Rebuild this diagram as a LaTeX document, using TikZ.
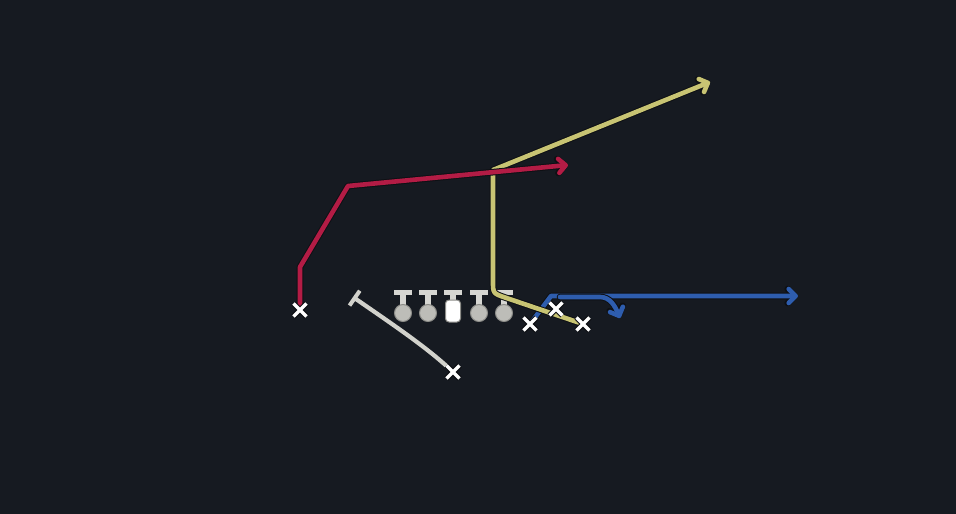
\documentclass[tikz,border=0pt]{standalone}
\usetikzlibrary{arrows.meta,shapes.misc}
\definecolor{bgc}{HTML}{161A21}
\definecolor{redr}{HTML}{B31C45}
\definecolor{yelr}{HTML}{C8C473}
\definecolor{bluer}{HTML}{2E5DAE}
\definecolor{greyr}{HTML}{D2D2CC}
\definecolor{edge}{HTML}{0E1014}
\definecolor{olfill}{HTML}{BDBDB8}
\definecolor{olbar}{HTML}{D6D6D2}
\definecolor{oledge}{HTML}{8C8C88}
\begin{document}
\begin{tikzpicture}[x=1pt,y=-1pt,
  route/.style={line width=4.6pt,line join=round,line cap=round,
    preaction={draw=edge,line width=6.6pt,line join=round,line cap=round}},
  tipr/.style={-{Straight Barb[length=7pt,width=14pt,round]}},
  redroute/.style={route,draw=redr,tipr},
  yelroute/.style={route,draw=yelr,tipr},
  blueroute/.style={route,draw=bluer,tipr},
  greyroute/.style={draw=greyr,line width=4.2pt,line cap=round,-{Bar[width=18pt,line width=4pt]}},
  xmark/.style={cross out,draw=white,line width=3.4pt,minimum size=9.5pt,inner sep=0pt,
    preaction={draw=edge,line width=5.4pt}},
  olman/.style={circle,fill=olfill,draw=oledge,line width=1pt,minimum size=17pt,inner sep=0pt},
  centre/.style={rounded corners=3.5pt,fill=white,draw=oledge,line width=1pt,minimum width=15pt,minimum height=22pt,inner sep=0pt},
  tbar/.style={draw=olbar,line width=5pt},
  tstem/.style={draw=olbar,line width=6pt}]
\fill[bgc] (0,0) rectangle (956,514);
\useasboundingbox (0,0) rectangle (956,514);

% offensive line
\foreach \n/\x in {lt/403,lg/428,rg/479,rt/504}{
  \draw[tstem] (\x,293) -- (\x,308);
  \draw[tbar] (\x-9,292) -- (\x+9,292);
  \node[olman] (\n) at (\x,313) {};
}
\draw[tstem] (453,293) -- (453,304);
\draw[tbar] (444,292) -- (462,292);
\node[centre] (c) at (453,311) {};

% players
\node[xmark] (x1) at (300,310) {};
\node[xmark] (x2) at (453,372) {};
\node[xmark] (x3) at (530,324) {};
\node[xmark] (x4) at (556,309) {};
\node[xmark] (x5) at (583,324) {};

\coordinate (redA) at (300,267);
\coordinate (redB) at (348,186);
\coordinate (redE) at (568,165);
\coordinate (yelB) at (505.3,297.6);
\coordinate (yelK) at (493,293.4);
\coordinate (yelD) at (493,281);
\coordinate (yelC) at (493,170);
\coordinate (yelE) at (710,82);
\coordinate (bluA) at (551,296);
\coordinate (bluE) at (798,296);
\coordinate (bluS) at (560,297);
\coordinate (bluM) at (600,297);
\coordinate (bluF) at (620,318);
\coordinate (qbT) at (353,297);

% routes
\draw[blueroute] (x3.center) -- (bluA) -- (bluE);
\draw[blueroute] (bluS) -- (bluM) .. controls (610,297) and (615,306) .. (bluF);
\draw[yelroute] (x5.center) -- (yelB) .. controls (yelK) .. (yelD) -- (yelC) -- (yelE);
\draw[redroute] (x1.center) -- (redA) -- (redB) -- (redE);
\draw[greyroute] (x2.center) .. controls (428,348) and (392,324) .. (qbT);

% players on top of the routes
\foreach \x/\y in {300/310,453/372,530/324,556/309,583/324}{
  \node[xmark] at (\x,\y) {};
}
\end{tikzpicture}
\end{document}
